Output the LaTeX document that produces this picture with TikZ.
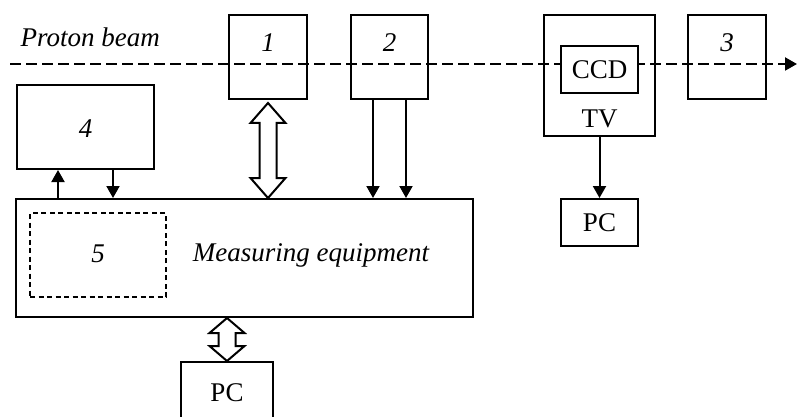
\documentclass[tikz,border=0pt]{standalone}
\usepackage{fontspec}
\setmainfont{Liberation Serif}
\usetikzlibrary{arrows.meta,calc}
\newcommand\figfont{\fontsize{27}{31}\selectfont}
\tikzset{
  blk/.style={draw, line width=2pt, inner sep=0pt},
  sig/.style={line width=2pt, -{Triangle[length=12pt,width=13pt]}},
  hollow/.style={draw, fill=white, line width=2pt, line join=miter},
  beam/.style={line width=2pt, dash pattern=on 10.5pt off 5.5pt, -{Triangle[length=12pt,width=13pt]}},
  lbl/.style={anchor=base, font=\figfont\itshape}
}
% hollow two-headed arrow: tip a, tip b, head length
\newcommand\hollowarrow[3]{%
  \draw[hollow] (#1) -- ++(17.5,#3) -- ++(-9,0) -- ($(#2)+(8.5,-#3)$) -- ++(9,0) -- (#2)
    -- ++(-17.5,-#3) -- ++(9,0) -- ($(#1)+(-8.5,#3)$) -- ++(-9,0) -- cycle;}
\begin{document}
\begin{tikzpicture}[x=1pt, y=-1pt, font=\figfont, line cap=butt]
  \useasboundingbox (0,0) rectangle (797,417);
  % beam
  \coordinate (beamL) at (10,64);
  \coordinate (beamR) at (797,64);
  \draw[beam] (beamL) -- (beamR);
  \node[lbl, anchor=base west] (pb) at (17,47) {Proton beam};
  % blocks
  \node[blk, minimum width=78pt, minimum height=84pt] (b1) at (268,57) {};
  \node[blk, minimum width=77pt, minimum height=84pt] (b2) at (389.5,57) {};
  \node[blk, minimum width=111pt, minimum height=121pt] (tv) at (599.5,75.5) {};
  \node[blk, fill=white, minimum width=77pt, minimum height=47pt] (ccd) at (599.5,69.5) {CCD};
  \node[blk, minimum width=78pt, minimum height=84pt] (b3) at (727,57) {};
  \node[blk, minimum width=137pt, minimum height=84pt] (b4) at (85.5,127) {};
  \node[blk, minimum width=457pt, minimum height=118pt] (meas) at (244.5,258) {};
  \node[blk, line width=1.7pt, dash pattern=on 5pt off 3.5pt, minimum width=136pt, minimum height=84pt] (b5) at (98,255) {};
  \node[blk, minimum width=77pt, minimum height=47pt] (pcr) at (599.5,222.5) {PC};
  \node[blk, minimum width=92pt, minimum height=62pt] (pcb) at (227,393) {PC};
  % labels
  \node[lbl] (l1) at (268,52) {1};
  \node[lbl] (l2) at (389.5,52) {2};
  \node[lbl] (l3) at (727,52) {3};
  \node[lbl] (l4) at (85.5,137) {4};
  \node[lbl] (l5) at (98,262) {5};
  \node[lbl] (lm) at (311,261) {Measuring equipment};
  \node[anchor=base] (ltv) at (599.5,128) {TV};
  % signals
  \coordinate (u4) at ($(b4.south)+(-27.5,0)$);
  \coordinate (d4) at ($(b4.south)+(27.5,0)$);
  \draw[sig] (u4 |- meas.north) -- (u4);
  \draw[sig] (d4) -- (d4 |- meas.north);
  \coordinate (a2) at ($(b2.south)+(-16.5,0)$);
  \coordinate (c2) at ($(b2.south)+(16.5,0)$);
  \draw[sig] (a2) -- (a2 |- meas.north);
  \draw[sig] (c2) -- (c2 |- meas.north);
  \draw[sig] (tv.south) -- (pcr.north);
  % data links
  \coordinate (h1a) at ($(b1.south)+(0,3)$);
  \coordinate (h1b) at (b1.south |- meas.north);
  \hollowarrow{h1a}{h1b}{20}
  \coordinate (h2a) at (pcb.north |- meas.south);
  \hollowarrow{h2a}{pcb.north}{15}
\end{tikzpicture}
\end{document}
